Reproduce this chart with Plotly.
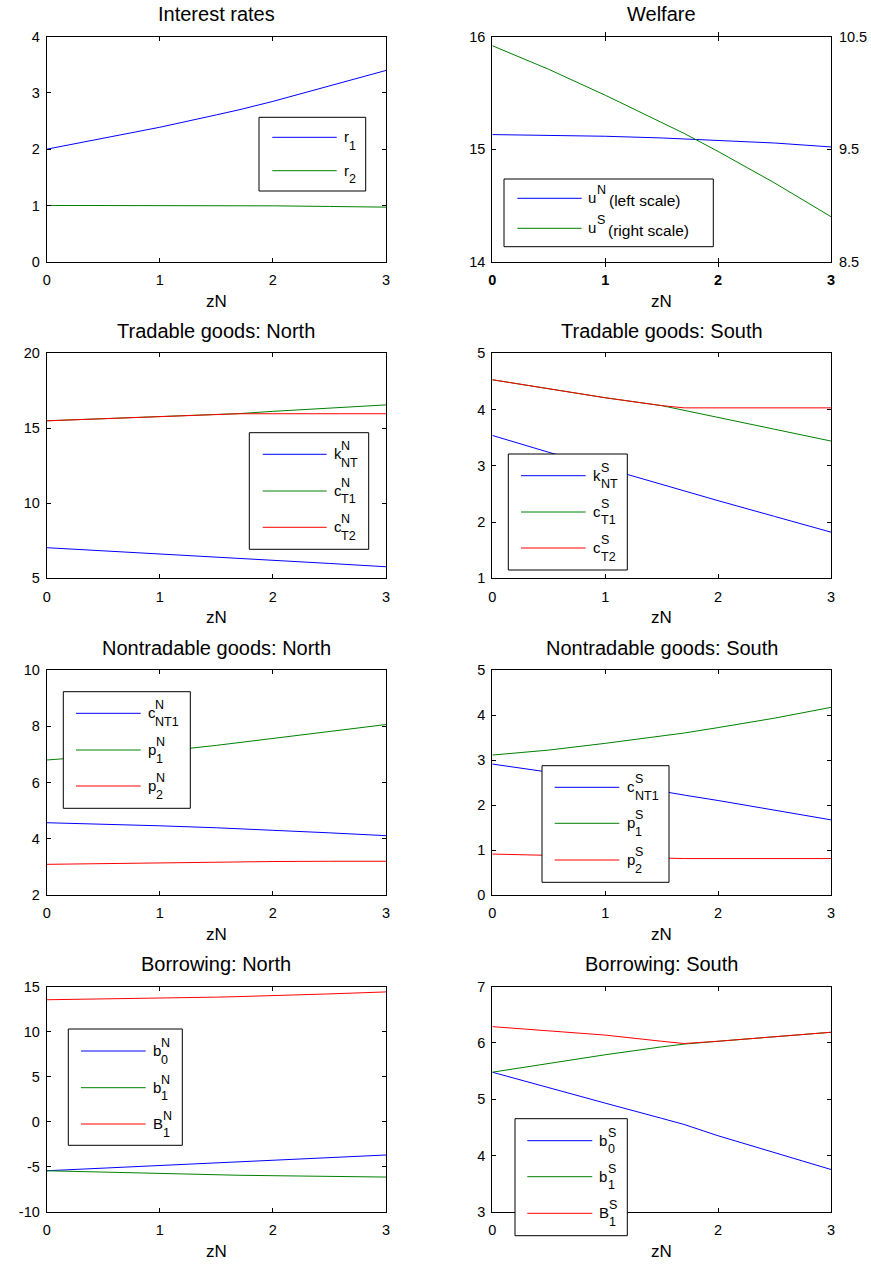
import plotly.graph_objects as go

W, H = 871, 1264

# ---------------- data ----------------
zN = [0, 0.5, 1, 1.5, 1.7, 2, 2.5, 3]
x_ticks = [0, 1, 2, 3]

r1 = [2.0, 2.19, 2.39, 2.61, 2.70, 2.85, 3.12, 3.40]
r2 = [1.0, 1.0, 1.0, 1.0, 1.0, 0.993, 0.982, 0.97]

uN = [15.13, 15.125, 15.115, 15.10, 15.09, 15.08, 15.055, 15.02]
uS = [10.42, 10.21, 9.98, 9.74, 9.64, 9.48, 9.20, 8.90]

kNT_N = [7.04, 6.84, 6.63, 6.42, 6.33, 6.20, 5.99, 5.77]
cT1_N = [15.5, 15.65, 15.8, 15.93, 15.98, 16.13, 16.34, 16.56]
cT2_N = [15.5, 15.65, 15.8, 15.93, 15.97, 15.97, 15.97, 15.97]

kNT_S = [3.54, 3.24, 2.96, 2.67, 2.55, 2.38, 2.10, 1.82]
cT1_S = [4.53, 4.37, 4.21, 4.07, 3.99, 3.86, 3.65, 3.44]
cT2_S = [4.53, 4.37, 4.21, 4.07, 4.03, 4.03, 4.03, 4.03]

cNT1_N = [4.57, 4.52, 4.46, 4.39, 4.36, 4.30, 4.21, 4.11]
p1_N = [6.80, 6.95, 7.10, 7.32, 7.42, 7.55, 7.80, 8.06]
p2_N = [3.09, 3.12, 3.15, 3.18, 3.19, 3.19, 3.20, 3.20]

cNT1_S = [2.91, 2.73, 2.52, 2.30, 2.22, 2.10, 1.88, 1.67]
p1_S = [3.11, 3.22, 3.37, 3.53, 3.60, 3.72, 3.93, 4.17]
p2_S = [0.91, 0.88, 0.85, 0.82, 0.81, 0.81, 0.81, 0.81]

b0_N = [-5.45, -5.15, -4.85, -4.55, -4.44, -4.26, -3.98, -3.70]
b1_N = [-5.45, -5.62, -5.77, -5.90, -5.95, -6.00, -6.08, -6.15]
B1_N = [13.55, 13.62, 13.72, 13.84, 13.90, 14.00, 14.20, 14.42]

b0_S = [5.48, 5.20, 4.93, 4.66, 4.55, 4.35, 4.05, 3.75]
b1_S = [5.48, 5.64, 5.79, 5.93, 5.98, 6.03, 6.11, 6.19]
B1_S = [6.29, 6.22, 6.14, 6.03, 5.99, 6.03, 6.11, 6.19]

titles = ["Interest rates", "Welfare",
          "Tradable goods: North", "Tradable goods: South",
          "Nontradable goods: North", "Nontradable goods: South",
          "Borrowing: North", "Borrowing: South"]

y_ticks = [[0, 1, 2, 3, 4], [14, 15, 16],
           [5, 10, 15, 20], [1, 2, 3, 4, 5],
           [2, 4, 6, 8, 10], [0, 1, 2, 3, 4, 5],
           [-10, -5, 0, 5, 10, 15], [3, 4, 5, 6, 7]]
y2_ticks = [8.5, 9.5, 10.5]
x_label = "zN"

# ---------------- styles ----------------
BLUE = "rgb(0,0,255)"
GREEN = "rgb(0,128,0)"
RED = "rgb(255,0,0)"
FONT = "Liberation Sans, Arial, Helvetica, sans-serif"
TICK_SIZE = 14.5

series = [
    [(r1, BLUE), (r2, GREEN)],
    [(uN, BLUE)],
    [(kNT_N, BLUE), (cT1_N, GREEN), (cT2_N, RED)],
    [(kNT_S, BLUE), (cT1_S, GREEN), (cT2_S, RED)],
    [(cNT1_N, BLUE), (p1_N, GREEN), (p2_N, RED)],
    [(cNT1_S, BLUE), (p1_S, GREEN), (p2_S, RED)],
    [(b0_N, BLUE), (b1_N, GREEN), (B1_N, RED)],
    [(b0_S, BLUE), (b1_S, GREEN), (B1_S, RED)],
]

# pixel geometry of the plot areas
col_x = [(46.7, 386.0), (492.3, 831.0)]
row_top = [36.7, 353.3, 670.0, 986.7]
plot_h = 225.0


def fx(px):
    return px / W


def fy(py):
    return 1 - py / H


def fmt(v):
    return "%g" % v


fig = go.Figure()
layout = dict(
    width=W, height=H,
    margin=dict(l=0, r=0, t=0, b=0, autoexpand=False),
    paper_bgcolor="white", plot_bgcolor="white",
    showlegend=False,
    font=dict(family=FONT, size=14, color="black"),
)

annotations = []
shapes = []

for i in range(8):
    r, c = divmod(i, 2)
    x0, x1 = col_x[c]
    top = row_top[r]
    bot = top + plot_h
    n = i + 1
    xa = "x" if n == 1 else "x%d" % n
    ya = "y" if n == 1 else "y%d" % n
    for yv, col in series[i]:
        fig.add_trace(go.Scatter(x=zN, y=yv, mode="lines", xaxis=xa, yaxis=ya,
                                 line=dict(color=col, width=1)))
    yt = y_ticks[i]
    axis_common = dict(showline=True, linecolor="black", linewidth=1, mirror="allticks",
                       ticks="inside", ticklen=4, tickwidth=1, tickcolor="black",
                       showgrid=False, zeroline=False, automargin=False)
    xfont = dict(family=FONT, size=TICK_SIZE, color="black")
    if n == 2:
        xfont["weight"] = "bold"
    layout["xaxis" if n == 1 else "xaxis%d" % n] = dict(
        domain=[fx(x0), fx(x1)], anchor=ya, range=[0, 3],
        tickvals=x_ticks, ticktext=[fmt(v) for v in x_ticks],
        ticklabelstandoff=5, tickfont=xfont, **axis_common)
    layout["yaxis" if n == 1 else "yaxis%d" % n] = dict(
        domain=[fy(bot), fy(top)], anchor=xa, range=[yt[0], yt[-1]],
        tickvals=yt, ticktext=[fmt(v) for v in yt],
        ticklabelstandoff=3, tickfont=dict(family=FONT, size=TICK_SIZE, color="black"),
        **axis_common)
    annotations.append(dict(text=titles[i], x=fx((x0 + x1) / 2), y=fy(top - 22.5),
                            xref="paper", yref="paper", showarrow=False,
                            xanchor="center", yanchor="middle",
                            font=dict(family=FONT, size=20, color="black")))
    annotations.append(dict(text=x_label, x=fx((x0 + x1) / 2), y=fy(bot + 39.5),
                            xref="paper", yref="paper", showarrow=False,
                            xanchor="center", yanchor="middle",
                            font=dict(family=FONT, size=17, color="black")))

# right axis of the welfare panel
fig.add_trace(go.Scatter(x=zN, y=uS, mode="lines", xaxis="x2", yaxis="y9",
                         line=dict(color=GREEN, width=1)))
layout["yaxis9"] = dict(overlaying="y2", side="right", anchor="x2",
                        range=[y2_ticks[0], y2_ticks[-1]], tickvals=y2_ticks,
                        ticktext=[fmt(v) for v in y2_ticks],
                        showline=True, linecolor="black", linewidth=1,
                        ticks="inside", ticklen=4, tickcolor="black", automargin=False,
                        showgrid=False, zeroline=False, ticklabelstandoff=4,
                        tickfont=dict(family=FONT, size=TICK_SIZE, color="black"))

# ---------------- legends (drawn as boxes with samples and text) ----------------
char_w = {"r": 5.0, "u": 8.3, "k": 7.5, "c": 7.5, "p": 8.3, "b": 8.3, "B": 10.0}
sup_w = {"N": 9.0, "S": 8.3}

legends = [
    dict(box=(259, 117.3, 365.7, 191), lx=(272.3, 336.7), tx=343.3, ys=(137.3, 170.7),
         items=[(BLUE, "r", None, "1", None), (GREEN, "r", None, "2", None)]),
    dict(box=(504, 179, 713.3, 246.7), lx=(517.3, 581.7), tx=587.3, ys=(198.3, 228.3),
         items=[(BLUE, "u", "N", None, "(left scale)"), (GREEN, "u", "S", None, "(right scale)")]),
    dict(box=(249.3, 432.7, 368.7, 549.3), lx=(262.7, 326.7), tx=332.7, ys=(454.3, 491, 527.3),
         items=[(BLUE, "k", "N", "NT", None), (GREEN, "c", "N", "T1", None), (RED, "c", "N", "T2", None)]),
    dict(box=(508.3, 454, 627.3, 570), lx=(521, 585.7), tx=592.3, ys=(475.7, 512, 548),
         items=[(BLUE, "k", "S", "NT", None), (GREEN, "c", "S", "T1", None), (RED, "c", "S", "T2", None)]),
    dict(box=(63.3, 691.7, 190.3, 808.3), lx=(76, 140.7), tx=146.7, ys=(713.3, 750, 786),
         items=[(BLUE, "c", "N", "NT1", None), (GREEN, "p", "N", "1", None), (RED, "p", "N", "2", None)]),
    dict(box=(542, 765.7, 669, 882.3), lx=(554.7, 619.3), tx=626, ys=(787.3, 823.3, 860),
         items=[(BLUE, "c", "S", "NT1", None), (GREEN, "p", "S", "1", None), (RED, "p", "S", "2", None)]),
    dict(box=(68.3, 1029, 182.3, 1145.3), lx=(81, 145.7), tx=151.7, ys=(1051, 1087.7, 1124),
         items=[(BLUE, "b", "N", "0", None), (GREEN, "b", "N", "1", None), (RED, "B", "N", "1", None)]),
    dict(box=(515, 1118.7, 627.3, 1235.7), lx=(527.3, 592.3), tx=598.3, ys=(1140.7, 1176.7, 1213.3),
         items=[(BLUE, "b", "S", "0", None), (GREEN, "b", "S", "1", None), (RED, "B", "S", "1", None)]),
]

for lg in legends:
    bx0, by0, bx1, by1 = lg["box"]
    shapes.append(dict(type="rect", xref="paper", yref="paper", layer="above",
                       x0=fx(bx0), x1=fx(bx1), y0=fy(by1), y1=fy(by0),
                       fillcolor="white", line=dict(color="black", width=1)))
    for (col, base, sup, sub, extra), yy in zip(lg["items"], lg["ys"]):
        shapes.append(dict(type="line", xref="paper", yref="paper", layer="above",
                           x0=fx(lg["lx"][0]), x1=fx(lg["lx"][1]), y0=fy(yy), y1=fy(yy),
                           line=dict(color=col, width=1)))
        tx = lg["tx"]
        annotations.append(dict(text=base, x=fx(tx - 1), y=fy(yy - 0.5), xref="paper", yref="paper",
                                showarrow=False, xanchor="left", yanchor="middle",
                                font=dict(family=FONT, size=15, color="black")))
        sx = tx + char_w[base] - 1
        if sup:
            annotations.append(dict(text=sup, x=fx(sx), y=fy(yy - 8), xref="paper", yref="paper",
                                    showarrow=False, xanchor="left", yanchor="middle",
                                    font=dict(family=FONT, size=12.5, color="black")))
        if sub:
            annotations.append(dict(text=sub, x=fx(sx), y=fy(yy + 8.5), xref="paper", yref="paper",
                                    showarrow=False, xanchor="left", yanchor="middle",
                                    font=dict(family=FONT, size=12.5, color="black")))
        if extra:
            annotations.append(dict(text=extra, x=fx(sx + sup_w[sup] + 3.5), y=fy(yy + 2.5),
                                    xref="paper", yref="paper",
                                    showarrow=False, xanchor="left", yanchor="middle",
                                    font=dict(family=FONT, size=15.5, color="black")))

layout["annotations"] = annotations
layout["shapes"] = shapes
fig.update_layout(**layout)
fig.write_html("out.html")
